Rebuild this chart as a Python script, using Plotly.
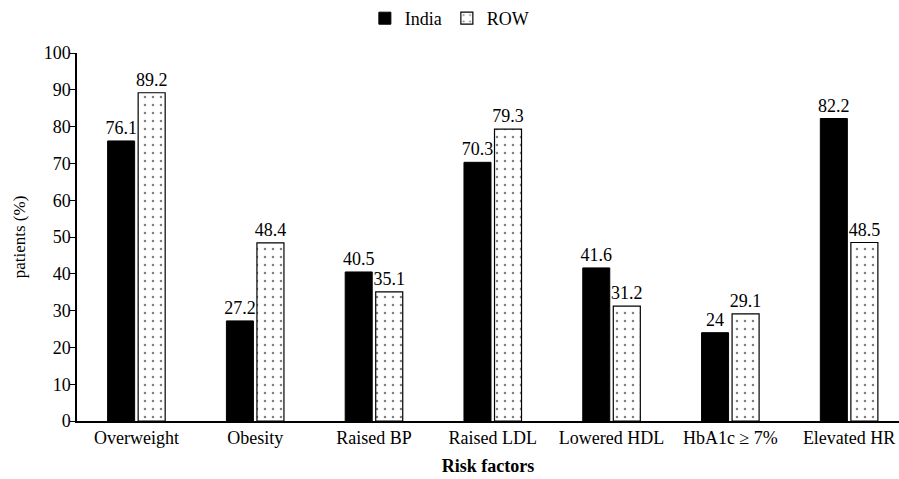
import plotly.graph_objects as go

categories = ["Overweight", "Obesity", "Raised BP", "Raised LDL", "Lowered HDL", "HbA1c \u2265 7%", "Elevated HR"]
india = [76.1, 27.2, 40.5, 70.3, 41.6, 24, 82.2]
row = [89.2, 48.4, 35.1, 79.3, 31.2, 29.1, 48.5]
y_ticks = list(range(0, 101, 10))

FONT = "Liberation Serif"

fig = go.Figure()
fig.add_trace(go.Bar(
    name="India", x=categories, y=india,
    marker=dict(color="black", line=dict(color="black", width=1)),
    text=[f"{v:g}" for v in india], textposition="outside", constraintext="none",
    textfont=dict(family=FONT, size=18, color="black"), cliponaxis=False,
))
fig.add_trace(go.Bar(
    name="ROW", x=categories, y=row,
    marker=dict(color="white", line=dict(color="black", width=1.2),
                pattern=dict(shape=".", fgcolor="black", bgcolor="white", size=8, solidity=0.08)),
    text=[f"{v:g}" for v in row], textposition="outside", constraintext="none",
    textfont=dict(family=FONT, size=18, color="black"), cliponaxis=False,
))

fig.update_layout(
    width=899, height=479,
    margin=dict(l=77, r=0, t=53, b=58, autoexpand=False),
    paper_bgcolor="white", plot_bgcolor="white",
    font=dict(family=FONT, size=18, color="black"),
    barmode="group", bargap=0.486, bargroupgap=0.115,
    showlegend=True,
    legend=dict(orientation="h", x=0.453, xanchor="center", y=1.0, yanchor="top",
                yref="container", font=dict(family=FONT, size=18, color="black"),
                itemwidth=30, traceorder="normal", tracegroupgap=0),
    xaxis=dict(
        type="category", range=[-0.5, 6.42],
        showline=True, linecolor="black", linewidth=1.5,
        ticks="", showgrid=False, tickfont=dict(family=FONT, size=18),
        title=dict(text="<b>Risk factors</b>", font=dict(family=FONT, size=18), standoff=12),
    ),
    yaxis=dict(
        range=[0, 100], tickvals=y_ticks, showline=True, linecolor="black", linewidth=1.5,
        ticks="outside", ticklen=5, tickcolor="black", showgrid=False, zeroline=False,
        tickfont=dict(family=FONT, size=18), ticklabelstandoff=-4,
        title=dict(text="patients (%)", font=dict(family=FONT, size=17), standoff=14),
    ),
)

fig.write_html(
    "out.html",
    config={"displayModeBar": False},
    post_script="document.body.style.margin='0';document.body.style.overflow='hidden';",
)
